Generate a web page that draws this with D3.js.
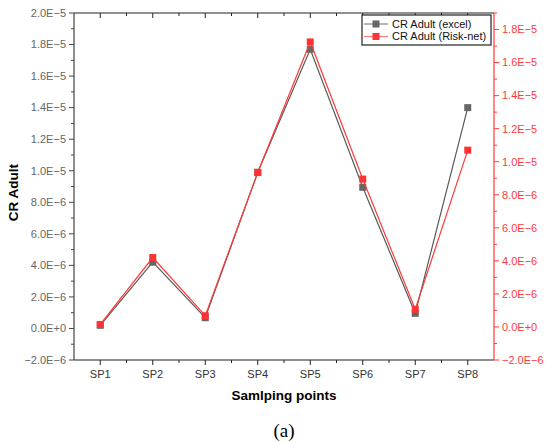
<!DOCTYPE html>
<html>
<head>
<meta charset="utf-8">
<script src="https://cdn.jsdelivr.net/npm/d3@7"></script>
<style>
  body { margin: 0; background: #fff; }
  svg { display: block; }
</style>
</head>
<body>
<div id="chart"></div>
<script>
// sampling points and the two CR Adult series (left axis: excel, right axis: Risk-net)
const categories = ["SP1", "SP2", "SP3", "SP4", "SP5", "SP6", "SP7", "SP8"];
const excelValues = [0.2e-6, 4.2e-6, 0.68e-6, 9.9e-6, 17.7e-6, 8.95e-6, 0.96e-6, 14.0e-6];
const risknetValues = [0.15e-6, 4.2e-6, 0.68e-6, 9.35e-6, 17.25e-6, 8.95e-6, 1.07e-6, 10.7e-6];
const leftTicks = [-2e-6, 0, 2e-6, 4e-6, 6e-6, 8e-6, 10e-6, 12e-6, 14e-6, 16e-6, 18e-6, 20e-6];
const rightTicks = [-2e-6, 0, 2e-6, 4e-6, 6e-6, 8e-6, 10e-6, 12e-6, 14e-6, 16e-6, 18e-6];
const seriesNames = ["CR Adult (excel)", "CR Adult (Risk-net)"];

const W = 550, H = 442;
const plotLeft = 74, plotRight = 494, plotTop = 13, plotBottom = 360;
const RED = "#ff3a3a";
const GRAY = "#595959";

const svg = d3.select("#chart").append("svg")
  .attr("width", W).attr("height", H)
  .style("font-family", "Arial, 'Liberation Sans', sans-serif");

const x = d3.scaleLinear().domain([0.5, categories.length + 0.5]).range([plotLeft, plotRight]);
const yL = d3.scaleLinear().domain([-2e-6, 2e-5]).range([plotBottom, plotTop]);
const yR = d3.scaleLinear().domain([-2e-6, 1.9e-5]).range([plotBottom, plotTop]);

// tick label format like 2.0E-5
function fmt(v) {
  if (Math.abs(v) < 1e-15) return "0.0E+0";
  const e = Math.floor(Math.log10(Math.abs(v)) + 1e-9);
  const m = v / Math.pow(10, e);
  return (m < 0 ? "\u2212" : "") + Math.abs(m).toFixed(1) + "E" + (e < 0 ? "\u2212" + (-e) : "+" + e);
}

const majorX = d3.range(1, categories.length + 1);
const minorX = d3.range(1.5, categories.length, 1);

// bottom axis
const bAxis = svg.append("g").attr("transform", `translate(0,${plotBottom})`);
bAxis.append("line").attr("x1", plotLeft).attr("x2", plotRight).attr("stroke", "#222").attr("stroke-width", 1.2);
bAxis.selectAll(".maj").data(majorX).join("line")
  .attr("class", "maj")
  .attr("x1", d => x(d)).attr("x2", d => x(d)).attr("y1", 0).attr("y2", 5).attr("stroke", "#222");
bAxis.selectAll(".min").data(minorX).join("line")
  .attr("class", "min")
  .attr("x1", d => x(d)).attr("x2", d => x(d)).attr("y1", 0).attr("y2", 3).attr("stroke", "#222");
bAxis.selectAll("text").data(categories).join("text")
  .attr("x", (d, i) => x(i + 1)).attr("y", 18)
  .attr("text-anchor", "middle").attr("font-size", 11).attr("fill", "#333")
  .text(d => d);

// top axis (mirror, ticks inward)
const tAxis = svg.append("g").attr("transform", `translate(0,${plotTop})`);
tAxis.append("line").attr("x1", plotLeft).attr("x2", plotRight).attr("stroke", "#222").attr("stroke-width", 1.2);
tAxis.selectAll(".maj").data(majorX).join("line")
  .attr("class", "maj")
  .attr("x1", d => x(d)).attr("x2", d => x(d)).attr("y1", 0).attr("y2", 5).attr("stroke", "#222");
tAxis.selectAll(".min").data(minorX).join("line")
  .attr("class", "min")
  .attr("x1", d => x(d)).attr("x2", d => x(d)).attr("y1", 0).attr("y2", 3).attr("stroke", "#222");

// left axis
const lAxis = svg.append("g").attr("transform", `translate(${plotLeft},0)`);
lAxis.append("line").attr("y1", plotTop).attr("y2", plotBottom).attr("stroke", "#444").attr("stroke-width", 1.2);
lAxis.selectAll(".maj").data(leftTicks).join("line")
  .attr("class", "maj")
  .attr("y1", d => yL(d)).attr("y2", d => yL(d)).attr("x1", 0).attr("x2", -5).attr("stroke", "#444");
lAxis.selectAll(".min").data(leftTicks.slice(0, -1).map(d => d + 1e-6)).join("line")
  .attr("class", "min")
  .attr("y1", d => yL(d)).attr("y2", d => yL(d)).attr("x1", 0).attr("x2", -3).attr("stroke", "#444");
lAxis.selectAll("text").data(leftTicks).join("text")
  .attr("x", -8).attr("y", d => yL(d)).attr("dy", "0.35em")
  .attr("text-anchor", "end").attr("font-size", 11).attr("fill", "#666")
  .text(fmt);

// right axis (red)
const rAxis = svg.append("g").attr("transform", `translate(${plotRight},0)`);
rAxis.append("line").attr("y1", plotTop).attr("y2", plotBottom).attr("stroke", RED).attr("stroke-width", 1.2);
rAxis.selectAll(".maj").data(rightTicks).join("line")
  .attr("class", "maj")
  .attr("y1", d => yR(d)).attr("y2", d => yR(d)).attr("x1", 0).attr("x2", 5).attr("stroke", RED);
rAxis.selectAll(".min").data(rightTicks.map(d => d + 1e-6)).join("line")
  .attr("class", "min")
  .attr("y1", d => yR(d)).attr("y2", d => yR(d)).attr("x1", 0).attr("x2", 3).attr("stroke", RED);
rAxis.selectAll("text").data(rightTicks).join("text")
  .attr("x", 8).attr("y", d => yR(d)).attr("dy", "0.35em")
  .attr("text-anchor", "start").attr("font-size", 11).attr("fill", RED)
  .text(fmt);

// axis titles
svg.append("text")
  .attr("transform", `translate(18,${(plotTop + plotBottom) / 2 + 6}) rotate(-90)`)
  .attr("text-anchor", "middle").attr("font-size", 13.5).attr("font-weight", "bold")
  .text("CR Adult");
svg.append("text")
  .attr("x", (plotLeft + plotRight) / 2).attr("y", 400)
  .attr("text-anchor", "middle").attr("font-size", 13.5).attr("font-weight", "bold")
  .text("Samlping points");
svg.append("text")
  .attr("x", (plotLeft + plotRight) / 2).attr("y", 437)
  .attr("text-anchor", "middle").attr("font-size", 19)
  .style("font-family", "'Liberation Serif', 'DejaVu Serif', serif")
  .text("(a)");

// series
const line = (yScale) => d3.line().x((d, i) => x(i + 1)).y(d => yScale(d));

svg.append("path").datum(excelValues)
  .attr("d", line(yL)).attr("fill", "none").attr("stroke", GRAY).attr("stroke-width", 1.2);
svg.selectAll(".mk-ex").data(excelValues).join("rect")
  .attr("class", "mk-ex")
  .attr("x", (d, i) => x(i + 1) - 3.5).attr("y", d => yL(d) - 3.5)
  .attr("width", 7).attr("height", 7).attr("fill", "#666");

svg.append("path").datum(risknetValues)
  .attr("d", line(yR)).attr("fill", "none").attr("stroke", RED).attr("stroke-width", 1.2);
svg.selectAll(".mk-rn").data(risknetValues).join("rect")
  .attr("class", "mk-rn")
  .attr("x", (d, i) => x(i + 1) - 3.5).attr("y", d => yR(d) - 3.5)
  .attr("width", 7).attr("height", 7).attr("fill", "#ff3333");

// legend
const lg = svg.append("g").attr("transform", "translate(362,15)");
lg.append("rect").attr("width", 129).attr("height", 30)
  .attr("fill", "#fff").attr("stroke", "#222").attr("stroke-width", 1.2);
const legendColors = [["#888", "#666"], ["#ff7a7a", "#ff3333"]];
seriesNames.forEach((name, i) => {
  const yy = 9 + i * 12.5;
  lg.append("line").attr("x1", 2).attr("x2", 26).attr("y1", yy).attr("y2", yy)
    .attr("stroke", legendColors[i][0]).attr("stroke-width", 1.2);
  lg.append("rect").attr("x", 14 - 3.5).attr("y", yy - 3.5).attr("width", 7).attr("height", 7)
    .attr("fill", legendColors[i][1]);
  lg.append("text").attr("x", 30).attr("y", yy).attr("dy", "0.35em")
    .attr("font-size", 11).attr("fill", "#111").text(name);
});
</script>
</body>
</html>
